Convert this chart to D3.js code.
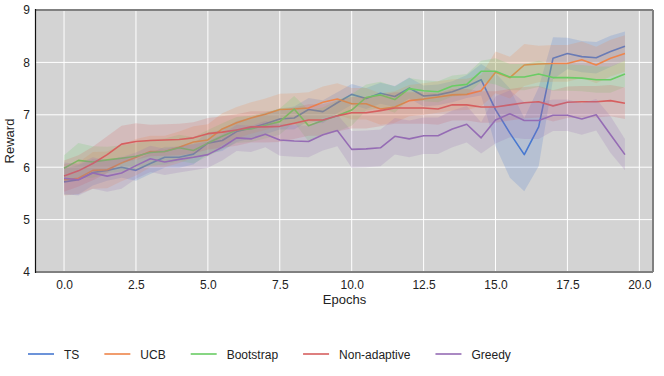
<!DOCTYPE html>
<html>
<head>
<meta charset="utf-8">
<script src="https://cdn.jsdelivr.net/npm/d3@7"></script>
<style>
  body { margin: 0; background: #fff; }
  text { font-family: "Liberation Sans", Arial, sans-serif; fill: #222; }
</style>
</head>
<body>
<div class="plot"></div>
<script>
// epochs 0..19.5 in steps of 0.5
const epochs = [0,0.5,1,1.5,2,2.5,3,3.5,4,4.5,5,5.5,6,6.5,7,7.5,8,8.5,9,9.5,
                10,10.5,11,11.5,12,12.5,13,13.5,14,14.5,15,15.5,16,16.5,17,17.5,18,18.5,19,19.5];

const seriesNames = ["TS", "UCB", "Bootstrap", "Non-adaptive", "Greedy"];

const tsMean = [5.72,5.76,5.90,5.94,6.00,5.94,6.07,6.19,6.19,6.25,6.46,6.51,6.68,6.75,6.83,6.92,6.94,7.10,7.06,7.23,
                7.39,7.31,7.41,7.35,7.51,7.36,7.38,7.44,7.54,7.67,7.10,6.65,6.24,6.77,8.08,8.17,8.11,8.09,8.21,8.31];
const ucbMean = [5.76,5.79,5.94,5.95,6.08,6.19,6.30,6.30,6.38,6.48,6.52,6.73,6.85,6.94,7.01,7.10,7.11,7.13,7.24,7.30,
                 7.21,7.21,7.11,7.15,7.27,7.30,7.34,7.38,7.39,7.46,7.81,7.71,7.95,7.97,7.98,7.98,8.05,7.95,8.08,8.17];
const bootMean = [5.98,6.13,6.10,6.14,6.17,6.21,6.28,6.30,6.37,6.32,6.46,6.59,6.71,6.73,6.80,6.87,7.11,6.79,6.89,6.98,
                  7.09,7.33,7.38,7.29,7.50,7.46,7.44,7.55,7.58,7.83,7.83,7.72,7.72,7.78,7.71,7.71,7.70,7.67,7.67,7.78];
const nonAdaptMean = [5.83,5.93,6.07,6.24,6.44,6.49,6.51,6.52,6.53,6.56,6.64,6.67,6.71,6.77,6.77,6.78,6.84,6.90,6.90,6.98,
                      7.04,7.04,7.08,7.13,7.13,7.13,7.11,7.19,7.19,7.15,7.15,7.19,7.23,7.25,7.17,7.24,7.25,7.25,7.27,7.22];
const greedyMean = [5.79,5.76,5.89,5.83,5.89,6.03,6.16,6.10,6.15,6.19,6.24,6.38,6.56,6.54,6.63,6.52,6.50,6.49,6.62,6.70,
                    6.34,6.35,6.37,6.59,6.54,6.60,6.60,6.73,6.82,6.56,6.90,7.02,6.89,6.89,6.99,6.99,6.92,7.00,6.62,6.24];

// half width of the shaded confidence band
const tsCi = [0.25,0.28,0.25,0.20,0.20,0.20,0.20,0.20,0.20,0.20,0.20,0.20,0.20,0.20,0.20,0.20,0.22,0.22,0.22,0.20,
              0.20,0.20,0.20,0.20,0.20,0.20,0.20,0.20,0.22,0.30,0.70,0.85,0.70,0.75,0.40,0.30,0.30,0.30,0.30,0.28];
const ucbCi = [0.30,0.30,0.35,0.35,0.35,0.35,0.30,0.30,0.30,0.30,0.30,0.30,0.30,0.30,0.30,0.30,0.30,0.30,0.30,0.30,
               0.30,0.30,0.30,0.30,0.30,0.30,0.30,0.30,0.30,0.30,0.40,0.40,0.40,0.35,0.35,0.35,0.35,0.35,0.35,0.35];
const bootCi = [0.25,0.33,0.30,0.25,0.25,0.25,0.25,0.25,0.25,0.25,0.25,0.25,0.25,0.25,0.25,0.25,0.25,0.30,0.25,0.30,
                0.30,0.25,0.25,0.25,0.20,0.20,0.20,0.20,0.20,0.20,0.25,0.25,0.25,0.25,0.25,0.25,0.25,0.25,0.25,0.25];
const nonAdaptCi = [0.30,0.30,0.32,0.35,0.35,0.35,0.30,0.30,0.30,0.30,0.30,0.30,0.30,0.30,0.30,0.30,0.30,0.30,0.30,0.30,
                    0.30,0.30,0.30,0.30,0.30,0.30,0.30,0.30,0.30,0.30,0.30,0.30,0.30,0.30,0.30,0.30,0.30,0.30,0.30,0.30];
const greedyCi = [0.30,0.30,0.30,0.30,0.30,0.25,0.25,0.25,0.25,0.25,0.25,0.25,0.25,0.25,0.25,0.30,0.30,0.30,0.30,0.30,
                  0.35,0.35,0.35,0.35,0.35,0.35,0.35,0.35,0.35,0.30,0.45,0.45,0.35,0.35,0.30,0.30,0.30,0.30,0.35,0.30];

const xTicks = [0, 2.5, 5, 7.5, 10, 12.5, 15, 17.5, 20];
const yTicks = [4, 5, 6, 7, 8, 9];

const colors = ["#4878d0", "#ee854a", "#6acc64", "#d65f5f", "#956cb4"];

const means = [tsMean, ucbMean, bootMean, nonAdaptMean, greedyMean];
const cis = [tsCi, ucbCi, bootCi, nonAdaptCi, greedyCi];

const W = 664, H = 376;
const margin = {top: 10, right: 11, bottom: 104, left: 36};
const w = W - margin.left - margin.right;
const h = H - margin.top - margin.bottom;

const root = d3.select(".plot").append("svg")
    .attr("width", W)
    .attr("height", H);
const svg = root.append("g")
    .attr("transform", "translate(" + margin.left + "," + margin.top + ")");

const x = d3.scaleLinear().domain([-0.975, 20.475]).range([0, w]);
const y = d3.scaleLinear().domain([4, 9]).range([h, 0]);

// background + grid
svg.append("rect")
    .attr("width", w).attr("height", h)
    .attr("fill", "#d3d3d3");

svg.append("g").selectAll("line")
    .data(xTicks).enter().append("line")
    .attr("x1", d => x(d)).attr("x2", d => x(d))
    .attr("y1", 0).attr("y2", h)
    .attr("stroke", "#fff").attr("stroke-width", 1);
svg.append("g").selectAll("line")
    .data(yTicks).enter().append("line")
    .attr("y1", d => y(d)).attr("y2", d => y(d))
    .attr("x1", 0).attr("x2", w)
    .attr("stroke", "#fff").attr("stroke-width", 1);

// series: band then line
const area = d3.area()
    .x(d => x(d.t))
    .y0(d => y(d.m - d.c))
    .y1(d => y(d.m + d.c));
const line = d3.line()
    .x(d => x(d.t))
    .y(d => y(d.m));

seriesNames.forEach((name, i) => {
    const pts = epochs.map((t, k) => ({t: t, m: means[i][k], c: cis[i][k]}));
    svg.append("path")
        .datum(pts)
        .attr("d", area)
        .attr("fill", colors[i])
        .attr("fill-opacity", 0.2);
    svg.append("path")
        .datum(pts)
        .attr("d", line)
        .attr("fill", "none")
        .attr("stroke", colors[i])
        .attr("stroke-width", 1.6)
        .attr("stroke-linejoin", "round");
});

// axes
const xAxis = svg.append("g")
    .attr("transform", "translate(0," + h + ")")
    .call(d3.axisBottom(x).tickValues(xTicks).tickFormat(d3.format(".1f")).tickSize(0).tickPadding(8));
const yAxis = svg.append("g")
    .call(d3.axisLeft(y).tickValues(yTicks).tickFormat(d3.format("d")).tickSize(0).tickPadding(6));
[xAxis, yAxis].forEach(a => {
    a.select(".domain").remove();
    a.selectAll("text").style("font-size", "12px").style("font-family", "Liberation Sans, Arial, sans-serif").attr("fill", "#222");
});

// spines
svg.append("line").attr("x1", 0).attr("x2", w).attr("y1", 0).attr("y2", 0)
    .attr("stroke", "#808080").attr("stroke-width", 2);
svg.append("line").attr("x1", w).attr("x2", w).attr("y1", 0).attr("y2", h)
    .attr("stroke", "#808080").attr("stroke-width", 2);
svg.append("line").attr("x1", 0).attr("x2", w).attr("y1", h).attr("y2", h)
    .attr("stroke", "#808080").attr("stroke-width", 2);
svg.append("line").attr("x1", -0.5).attr("x2", -0.5).attr("y1", -1).attr("y2", h + 1)
    .attr("stroke", "#111").attr("stroke-width", 1.2);

// axis titles
svg.append("text")
    .attr("x", w / 2).attr("y", h + 32)
    .attr("text-anchor", "middle")
    .style("font-size", "13px")
    .text("Epochs");
svg.append("text")
    .attr("transform", "rotate(-90)")
    .attr("x", -h / 2).attr("y", -22)
    .attr("text-anchor", "middle")
    .style("font-size", "13px")
    .text("Reward");

// legend
const legend = root.append("g").attr("transform", "translate(0,354)");
let lx = 28;
seriesNames.forEach((name, i) => {
    legend.append("line")
        .attr("x1", lx).attr("x2", lx + 26)
        .attr("stroke", colors[i]).attr("stroke-width", 1.6);
    const t = legend.append("text")
        .attr("x", lx + 36).attr("y", 5)
        .style("font-size", "12px")
        .text(name);
    lx += 36 + t.node().getComputedTextLength() + 25;
});
</script>
</body>
</html>
